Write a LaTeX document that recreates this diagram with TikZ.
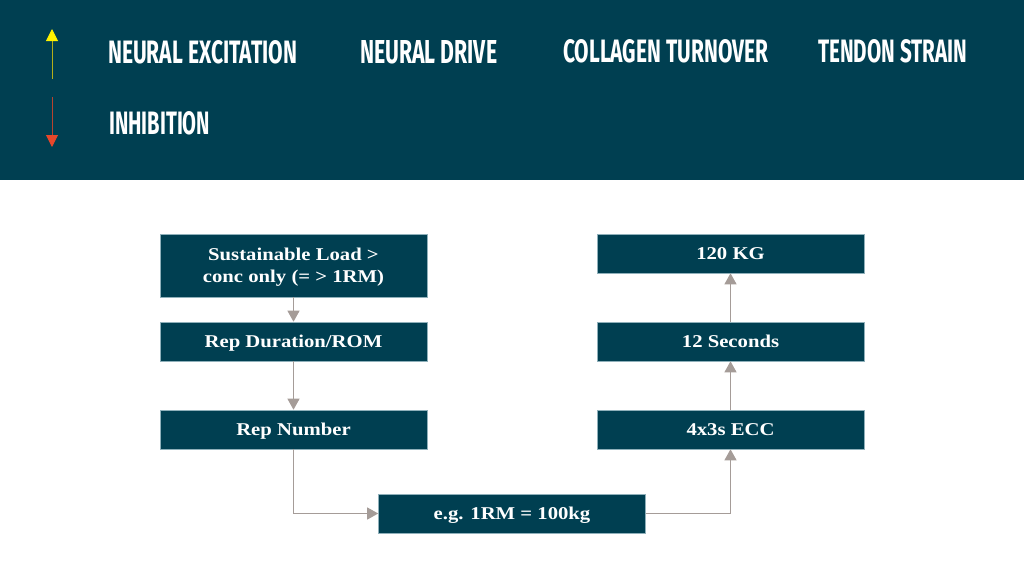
\documentclass[tikz,border=0pt]{standalone}
\usepackage{fontspec}
\usepackage{graphicx}
\usetikzlibrary{arrows.meta}
\newfontfamily\boxfont[FakeStretch=1.15]{Liberation Serif}
\newfontfamily\hdrfont{Fira Sans}
\newcommand{\hdr}[3]{\resizebox{#1pt}{#2pt}{\hdrfont\bfseries #3}}
\definecolor{teal}{HTML}{003F51}
\definecolor{edge}{HTML}{A59C98}
\definecolor{rim}{HTML}{8FB0BA}
\definecolor{upshaft}{HTML}{B3AE1A}
\definecolor{uphead}{HTML}{FFF200}
\definecolor{downshaft}{HTML}{B8432E}
\definecolor{downhead}{HTML}{E8472A}
\begin{document}
\begin{tikzpicture}
  [x=1pt,y=-1pt,every node/.style={inner sep=0pt}]
  \tikzstyle{stepbox} = [fill=teal,draw=rim,line width=.6pt,minimum width=267pt,minimum height=39pt,
    text=white,align=center,text depth=0pt,font=\boxfont\bfseries\fontsize{18}{22}\selectfont]
  \tikzstyle{hdrtext} = [anchor=north west,text=white]
  \tikzstyle{link} = [draw=edge,line width=1.1pt,-{Triangle[width=12pt,length=11pt,color=edge]}]
  \useasboundingbox (0,0) rectangle (1024,576);
  \fill[white] (0,0) rectangle (1024,576);
  \fill[teal] (0,0) rectangle (1024,180);
  % legend
  \coordinate (upfrom) at (52,79);
  \coordinate (upto) at (52,29);
  \coordinate (downfrom) at (52,97);
  \coordinate (downto) at (52,147);
  \draw[upshaft,line width=1pt,-{Triangle[width=12pt,length=12pt,color=uphead]}] (upfrom) -- (upto);
  \draw[downshaft,line width=1pt,-{Triangle[width=12pt,length=12pt,color=downhead]}] (downfrom) -- (downto);
  \node[hdrtext] (excit) at (108,40) {\hdr{189}{23}{NEURAL EXCITATION}};
  \node[hdrtext] (drive) at (360,40) {\hdr{137}{23}{NEURAL DRIVE}};
  \node[hdrtext] (turn) at (563,39) {\hdr{205}{23}{COLLAGEN TURNOVER}};
  \node[hdrtext] (strain) at (818,39) {\hdr{149}{23}{TENDON STRAIN}};
  \node[hdrtext] (inhib) at (109,111) {\hdr{101}{23}{INHIBITION}};
  % boxes
  \node[stepbox,minimum height=63pt] (load) at (293.5,265.5) {Sustainable Load >\\conc only (= > 1RM)};
  \node[stepbox] (dur) at (293.5,341.5) {Rep Duration/ROM};
  \node[stepbox] (num) at (293.5,429.5) {Rep Number};
  \node[stepbox] (eg) at (512,513.5) {e.g. 1RM = 100kg};
  \node[stepbox] (ecc) at (730.5,429.5) {4x3s ECC};
  \node[stepbox] (sec) at (730.5,341.5) {12 Seconds};
  \node[stepbox] (kg) at (730.5,253.5) {120 KG};
  \foreach \source /\dest in {load/dur,dur/num,ecc/sec,sec/kg}
   \draw[link] (\source) -- (\dest);
  \draw[link] (num.south) |- (eg.west);
  \draw[link] (eg.east) -| (ecc.south);
\end{tikzpicture}
\end{document}
